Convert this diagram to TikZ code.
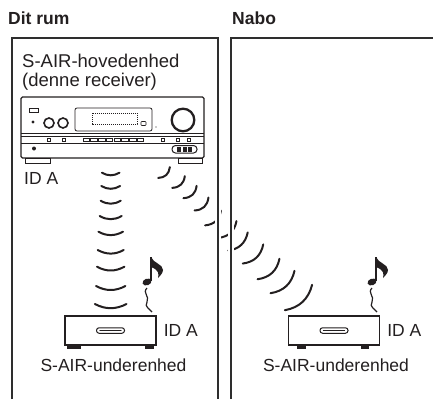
\documentclass[tikz,border=0pt]{standalone}
\usepackage{fontspec}
\setmainfont{Liberation Sans}
\usepackage{xcolor}
\definecolor{ink}{HTML}{231F20}
\definecolor{wallgray}{HTML}{2E2E2E}
\usepackage{tikz}
\usetikzlibrary{positioning, calc}
\tikzset{
  roomtitle/.style={font=\fontsize{17.5}{20}\selectfont\bfseries, text=ink, inner sep=0pt, anchor=base west},
  lbl/.style ={font=\fontsize{17.5}{20}\selectfont, text=ink, inner sep=0pt},
  wall/.style={draw=wallgray, line width=2.9pt, preaction={draw=white, line width=5.8pt}},
  wave/.style={draw=ink, line width=2pt, line cap=round},
  unitbox/.style={rectangle, draw=ink, line width=1.2pt, fill=white, minimum width=91pt, minimum height=29pt, inner sep=0pt},
  slot/.style={rectangle, rounded corners=2.6pt, draw=ink, line width=1pt, minimum width=28pt, minimum height=5.5pt, inner sep=0pt},
  rcvpart/.style={draw=ink, line width=0.8pt},
  pics/tone/.style={code={
    \fill[ink, rotate=20] (0,0) ellipse (4.6 and 3.3);
    \draw[ink, line width=1.3pt] (4,-1) -- (4,-25);
    \fill[ink] (4,-25) .. controls (6,-19) and (16,-18) .. (16,-12) .. controls (16,-9) and (13,-6) .. (11,-4)
               .. controls (12,-8) and (12,-12) .. (4,-15) -- cycle;
    \draw[ink, line width=1.2pt] (0,6) .. controls (-5,11) and (3,14) .. (0,20) .. controls (-3,25) and (3,27) .. (5,30);
  }},
}

\begin{document}
\begin{tikzpicture}[x=1pt, y=-1pt]
  \useasboundingbox (0,0) rectangle (433,399);

  % room titles
  \node[roomtitle] (own) at (8,24) {Dit rum};
  \node[roomtitle] (nabo) at (232,24) {Nabo};

  % main unit (receiver)
  \node[lbl, font=\fontsize{18.5}{18.5}\selectfont, align=left, anchor=north west] (mainlbl) at (22,54) {S-AIR-hovedenhed\\(denne receiver)};
  \draw[rcvpart, line width=1.1pt, rounded corners=1.5pt, fill=white] (21,97) rectangle (204,158);
  \draw[rcvpart] (21,133.3) -- (204,133.3) (21,136) -- (204,136) (21,143.3) -- (204,143.3);
  \draw[rcvpart, line width=0.6pt] (29,108) rectangle (38,112.5);
  \fill[ink] (33,122) circle (1.6);
  \draw[rcvpart, line width=1.6pt] (49,123) circle (5) (63,123) circle (5);
  \draw[rcvpart, rounded corners=2pt] (75,108) rectangle (152,131);
  \draw[rcvpart, line width=0.5pt, dashed, dash pattern=on 1.2pt off 0.8pt] (92,113) rectangle (137,124);
  \draw[rcvpart, line width=0.6pt, rounded corners=0.8pt] (141,121.5) rectangle (146,125.5);
  \fill[ink] (156,127) circle (0.6);
  \draw[rcvpart, line width=2.3pt] (183,120) circle (11.3);
  \foreach \bx in {49,64,163,178,189}
    \draw[rcvpart, line width=0.6pt] (\bx-1.4,138.3) rectangle (\bx+1.4,140.9);
  \foreach \k in {0,...,7}
    \draw[rcvpart, line width=0.6pt] (83+7.75*\k,138.3) rectangle (89.5+7.75*\k,140.9);
  \fill[ink] (34,148.5) circle (2);
  \draw[rcvpart, line width=1pt, rounded corners=3.5pt] (172,145.5) rectangle (197,153);
  \foreach \px in {179,184.5,190}
    \fill[ink] (\px-2,146.5) rectangle (\px+2,152);
  \draw[rcvpart, line width=0.6pt] (25,158) rectangle (50,163.5);
  \draw[rcvpart, line width=0.6pt] (178,158) rectangle (202,163.5);
  \node[lbl, anchor=north west] (idmain) at (24,172) {ID A};

  % waves inside the room
  \foreach \wy/\hw/\s in {172.7/8.8/2.6, 186/9.4/2.8, 200.7/10/3, 216/11/3.2, 231.7/12.3/3.4,
                          250/13/3.6, 266.7/13.7/3.8, 286/14.7/4, 304/15.8/4.2}
    \draw[wave, shift={(110.7,\wy)}] (-\hw,0) .. controls (-\hw/3,1.33*\s) and (\hw/3,1.33*\s) .. (\hw,0);

  % waves through the wall
  \foreach \cx/\cy/\hw/\s in {164/172.5/8/3.4, 178.5/182/8.6/3.6, 190/192/9/3.8, 201.5/204/9.5/4,
                              213/218/10.8/4.2, 227.5/229.5/12.3/4.5, 238/241.5/13.3/4.7, 253/254/14/5,
                              268.5/269/15/5.3, 282.5/282/16.4/5.6, 298.5/297.5/18.6/6}
    \draw[wave, shift={(\cx,\cy)}, rotate=43] (-\hw,0) .. controls (-\hw/3,1.33*\s) and (\hw/3,1.33*\s) .. (\hw,0);

  % walls of the two rooms
  \draw[wall] (12,399) -- (12,38) -- (218,38) -- (218,399);
  \draw[wall] (231,399) -- (231,38) -- (433,38);

  % sub units
  \node[unitbox] (subL) at (110.5,330.5) {};
  \node[unitbox] (subR) at (334,330.5) {};
  \node[slot] (slotL) at (subL) {};
  \node[slot] (slotR) at (subR) {};
  \draw[ink, line width=1.4pt, line cap=round] ([xshift=4pt]slotL.west) -- ([xshift=-4pt]slotL.east);
  \draw[ink, line width=1.4pt, line cap=round] ([xshift=4pt]slotR.west) -- ([xshift=-4pt]slotR.east);
  \fill[ink] ([xshift=3pt]subL.south west) rectangle ++(14,3);
  \fill[ink] ([xshift=-12pt]subL.south east) rectangle ++(9,3);
  \fill[ink] ([xshift=9pt]subR.south west) rectangle ++(9,3);
  \fill[ink] ([xshift=-19pt]subR.south east) rectangle ++(8,3);
  \node[lbl, right=7pt of subL] (idL) {ID A};
  \node[lbl, right=7pt of subR] (idR) {ID A};
  \node[lbl, below=13pt of subL, xshift=3pt] (nameL) {S-AIR-underenhed};
  \node[lbl, below=13pt of subR, xshift=2pt] (nameR) {S-AIR-underenhed};

  % sound from the sub units
  \pic at (147,282) {tone};
  \pic at (372,282) {tone};
\end{tikzpicture}
\end{document}
